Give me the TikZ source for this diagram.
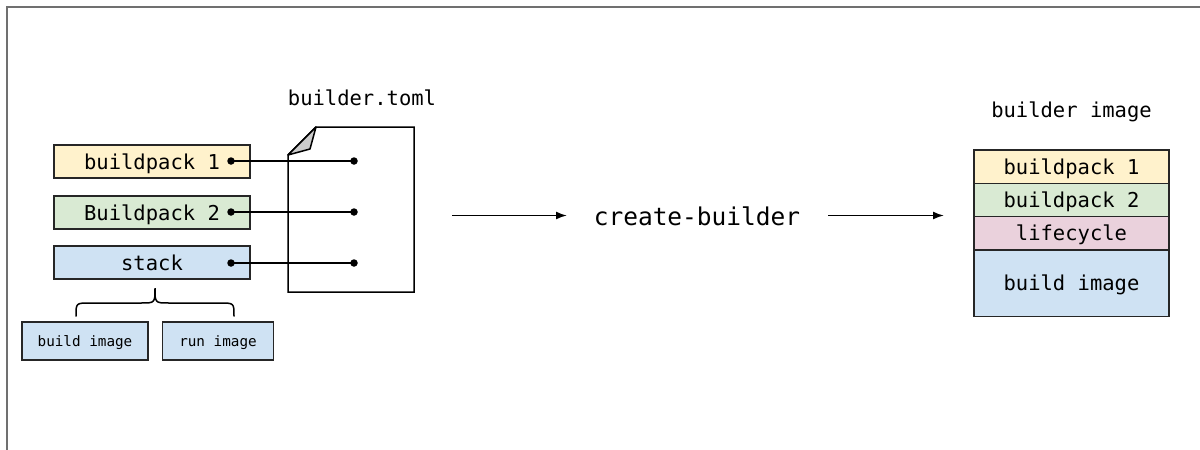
\documentclass[tikz,border=0pt]{standalone}
\usepackage{fontspec}
\setmainfont{DejaVu Sans Mono}
\usetikzlibrary{arrows.meta}
\definecolor{ylw}{HTML}{FFF2CC}
\definecolor{grn}{HTML}{D9EAD3}
\definecolor{blu}{HTML}{CFE2F3}
\definecolor{pnk}{HTML}{EAD1DC}
\definecolor{framegray}{HTML}{707070}
\definecolor{foldgray}{HTML}{CCCCCC}
\tikzset{
  boxbig/.style={draw=black!85, line width=1.4pt, minimum width=196pt, minimum height=33pt, inner sep=0pt,
    font=\fontsize{20.5}{24}\selectfont, text height=15pt, text depth=0pt},
  boxsmall/.style={draw=black!85, line width=1.4pt, fill=blu, minimum width=126pt, minimum height=38pt, inner sep=0pt,
    font=\fontsize{14.3}{17}\selectfont, text height=10.4pt, text depth=0pt},
  dotnode/.style={circle, fill=black, inner sep=0pt, minimum size=7.5pt},
  conn/.style={line width=1.7pt, black},
  arr/.style={line width=1.7pt, black, -{Latex[length=11pt,width=8pt]}},
  lbl/.style={font=\fontsize{20.5}{24}\selectfont, anchor=base, inner sep=0pt},
}
\begin{document}
\begin{tikzpicture}[x=1pt,y=-1pt]
\useasboundingbox (0,0) rectangle (1200,450);
% frame
\draw[framegray, line width=2pt] (1200,7) -- (7,7) -- (7,450);
% left boxes
\node[boxbig, fill=ylw] (bp1) at (152,161.5) {buildpack 1};
\node[boxbig, fill=grn] (bp2) at (152,212.5) {Buildpack 2};
\node[boxbig, fill=blu] (stk) at (152,262.5) {stack};
% document
\coordinate (docfold) at (288,155);
\draw[line width=1.5pt, fill=white] (316,127) -- (414,127) -- (414,292) -- (288,292) -- (docfold) -- cycle;
\draw[line width=1.5pt, fill=foldgray, line join=round] (docfold) -- (316,127) -- (310,149) -- cycle;
\node[lbl] (toml) at (362,105) {builder.toml};
% dots and connectors
\node[dotnode] (a1) at (231,161) {};
\node[dotnode] (a2) at (231,212) {};
\node[dotnode] (a3) at (231,263) {};
\node[dotnode] (b1) at (354,161) {};
\node[dotnode] (b2) at (354,212) {};
\node[dotnode] (b3) at (354,263) {};
\draw[conn] (a1.center) -- (b1.center);
\draw[conn] (a2.center) -- (b2.center);
\draw[conn] (a3.center) -- (b3.center);
% brace
\draw[line width=1.5pt, line cap=round] (76,316) .. controls (76,303) .. (90,303) -- (141,303)
  .. controls (155,303) .. (155,288) .. controls (155,303) .. (169,303) -- (220,303)
  .. controls (234,303) .. (234,316);
% small boxes
\node[boxsmall] (bimg) at (85,341) {build image};
\node[boxsmall, minimum width=111pt] (rimg) at (218,341) {run image};
% middle
\coordinate (s1) at (452,215.5);
\coordinate (e1) at (567,215.5);
\node[font=\fontsize{24.5}{28}\selectfont, anchor=base, inner sep=0pt] (cb) at (697,225) {create-builder};
\coordinate (s2) at (828,215.5);
\coordinate (e2) at (944,215.5);
\draw[arr] (s1) -- (e1);
\draw[arr] (s2) -- (e2);
% right stack
\node[lbl] (bimlbl) at (1071.5,117) {builder image};
\node[boxbig, fill=ylw, minimum width=195pt, minimum height=33.3pt] (r1) at (1071.5,166.7) {buildpack 1};
\node[boxbig, fill=grn, minimum width=195pt, minimum height=33.3pt] (r2) at (1071.5,200) {buildpack 2};
\node[boxbig, fill=pnk, minimum width=195pt, minimum height=33.3pt] (r3) at (1071.5,233.3) {lifecycle};
\node[boxbig, fill=blu, minimum width=195pt, minimum height=66.7pt] (r4) at (1071.5,283.3) {build image};
\end{tikzpicture}
\end{document}
